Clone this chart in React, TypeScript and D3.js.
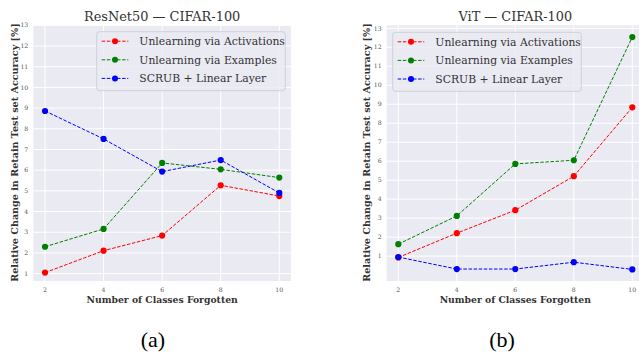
import React from "react";
import * as d3 from "d3";

const classesForgotten = [2, 4, 6, 8, 10];
const seriesNames = ["Unlearning via Activations", "Unlearning via Examples", "SCRUB + Linear Layer"];
const seriesColors = ["#ff0000", "#008000", "#0000ff"];

const resnetActivations = [1.05, 2.11, 2.84, 5.27, 4.75];
const resnetExamples = [2.3, 3.16, 6.35, 6.04, 5.64];
const resnetScrub = [8.86, 7.51, 5.93, 6.49, 4.9];

const vitActivations = [0.93, 2.21, 3.42, 5.21, 8.84];
const vitExamples = [1.63, 3.12, 5.86, 6.05, 12.54];
const vitScrub = [0.95, 0.32, 0.32, 0.68, 0.3];

const yTicks = [1, 2, 3, 4, 5, 6, 7, 8, 9, 10, 11, 12, 13];
const xTicks = [2, 4, 6, 8, 10];

const FONT = "'DejaVu Serif', serif";
const CAPFONT = "'Liberation Serif', serif";

type PanelProps = {
  title: string;
  caption: string;
  captionX: number;
  series: number[][];
  x0: number; x1: number;
  yTop: number; yBottom: number;
  yDomain: [number, number];
  legendX: number; legendY: number;
  yLabelX: number;
};

function Panel(p: PanelProps) {
  const x = d3.scaleLinear().domain([1.6, 10.4]).range([p.x0, p.x1]);
  const y = d3.scaleLinear().domain(p.yDomain).range([p.yBottom, p.yTop]);
  const line = d3.line<number>().x((_, i) => x(classesForgotten[i])).y((d) => y(d));
  const plotCx = (p.x0 + p.x1) / 2;
  const legW = 188.6, legH = 59;
  return (
    <g>
      <rect x={p.x0} y={p.yTop} width={p.x1 - p.x0} height={p.yBottom - p.yTop} fill="#eaeaf2" />
      {yTicks.map((t) => (
        <line key={"gy" + t} x1={p.x0} x2={p.x1} y1={y(t)} y2={y(t)} stroke="#fff" strokeWidth={1} />
      ))}
      {xTicks.map((t) => (
        <line key={"gx" + t} x1={x(t)} x2={x(t)} y1={p.yTop} y2={p.yBottom} stroke="#fff" strokeWidth={1} />
      ))}
      {p.series.map((s, si) => (
        <g key={"s" + si}>
          <path d={line(s) || ""} fill="none" stroke={seriesColors[si]} strokeWidth={1} strokeDasharray="3.5,1.6" />
          {s.map((v, i) => (
            <circle key={i} cx={x(classesForgotten[i])} cy={y(v)} r={3.1} fill={seriesColors[si]} />
          ))}
        </g>
      ))}
      {yTicks.map((t) => (
        <text key={"ty" + t} x={p.x0 - 5} y={y(t)} dy="0.35em" textAnchor="end" fontSize={6.2} fill="#555" fontFamily={FONT}>{t}</text>
      ))}
      {xTicks.map((t) => (
        <text key={"tx" + t} x={x(t)} y={p.yBottom + 11} textAnchor="middle" fontSize={6.2} fill="#555" fontFamily={FONT}>{t}</text>
      ))}
      <text x={plotCx} y={p.yBottom + 21.5} textAnchor="middle" fontSize={9.25} fontWeight="bold" fill="#333" fontFamily={FONT}>Number of Classes Forgotten</text>
      <text transform={`translate(${p.yLabelX},${152.5}) rotate(-90)`} textAnchor="middle" fontSize={9.6} fontWeight="bold" fill="#333" fontFamily={FONT}>Relative Change in Retain Test set Accuracy [%]</text>
      <text x={plotCx} y={20.5} textAnchor="middle" fontSize={12.9} fill="#333" fontFamily={FONT}>{p.title}</text>
      <text x={p.captionX} y={347} textAnchor="middle" fontSize={22} fill="#000" fontFamily={CAPFONT}>{p.caption}</text>
      <g transform={`translate(${p.legendX},${p.legendY})`}>
        <rect x={0} y={0} width={legW} height={legH} rx={3} fill="#eaeaf2" fillOpacity={0.8} stroke="#d0d0d8" strokeWidth={1} />
        {seriesNames.map((n, i) => (
          <g key={n} transform={`translate(0,${9.5 + i * 18.6})`}>
            <line x1={5} x2={31.6} y1={0} y2={0} stroke={seriesColors[i]} strokeWidth={1} strokeDasharray="3.5,1.6" />
            <circle cx={18.3} cy={0} r={3} fill={seriesColors[i]} />
            <text x={42.6} y={0} dy="0.36em" fontSize={10.8} fill="#333" fontFamily={FONT}>{n}</text>
          </g>
        ))}
      </g>
    </g>
  );
}

export default function App() {
  return (
    <svg width={639} height={352} style={{ position: "absolute", left: 0, top: 0, background: "#fff" }}>
      <Panel
        title="ResNet50 — CIFAR-100"
        caption="(a)"
        captionX={153}
        series={[resnetActivations, resnetExamples, resnetScrub]}
        x0={33.3} x1={291}
        yTop={25.3} yBottom={281}
        yDomain={[0.645, 13]}
        legendX={96.7} legendY={31.7}
        yLabelX={18}
      />
      <Panel
        title="ViT — CIFAR-100"
        caption="(b)"
        captionX={502}
        series={[vitActivations, vitExamples, vitScrub]}
        x0={386.6} x1={644}
        yTop={25.3} yBottom={281}
        yDomain={[-0.31, 13.16]}
        legendX={392.7} legendY={32.3}
        yLabelX={370}
      />
    </svg>
  );
}
